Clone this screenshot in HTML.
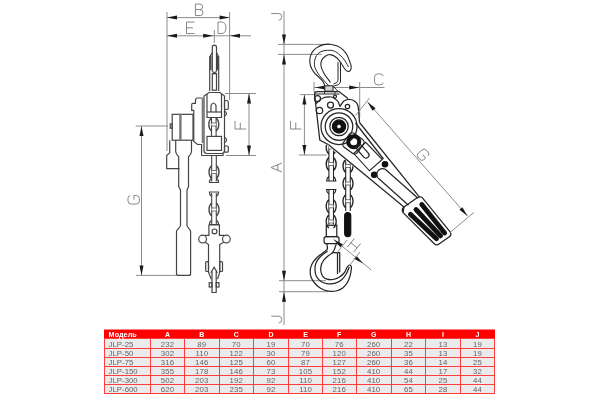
<!DOCTYPE html>
<html><head><meta charset="utf-8"><style>
html,body{margin:0;padding:0;background:#fff;width:600px;height:400px;overflow:hidden}
svg{display:block;font-family:"Liberation Sans",sans-serif;will-change:transform}
</style></head><body>
<svg width="600" height="400" viewBox="0 0 600 400">
<g>
<line x1="167" y1="12" x2="167" y2="151" stroke="#8c8c8c" stroke-width="1.0"/>
<line x1="229.6" y1="12" x2="229.6" y2="100" stroke="#8c8c8c" stroke-width="1.0"/>
<line x1="167" y1="17.6" x2="229.6" y2="17.6" stroke="#8c8c8c" stroke-width="1.0"/>
<path d="M167.00,17.60 L177.00,15.60 L177.00,19.60 Z" fill="#1a1a1a"/>
<path d="M229.60,17.60 L219.60,19.60 L219.60,15.60 Z" fill="#1a1a1a"/>
<line x1="167" y1="35.8" x2="251" y2="35.8" stroke="#8c8c8c" stroke-width="1.0"/>
<path d="M167.00,35.80 L177.00,33.80 L177.00,37.80 Z" fill="#1a1a1a"/>
<path d="M213.20,35.80 L203.20,37.80 L203.20,33.80 Z" fill="#1a1a1a"/>
<path d="M230.00,35.80 L240.00,33.80 L240.00,37.80 Z" fill="#1a1a1a"/>
<line x1="214.3" y1="30" x2="214.3" y2="43" stroke="#8c8c8c" stroke-width="1.0"/>
<path transform="translate(199.2,9.8) rotate(0) translate(-3.75,-5.75)" d="M0,0 H4.65 Q7.125,0 7.125,2.875 Q7.125,5.52 4.5,5.52 H0 M4.5,5.52 Q7.5,5.75 7.5,8.625 Q7.5,11.5 4.65,11.5 H0 V0" stroke="#7a7a7a" stroke-width="0.9" fill="none"/>
<path transform="translate(190.5,27.8) rotate(0) translate(-4.0,-5.75)" d="M8,0 H0 V11.5 H8 M0,5.75 H6.4" stroke="#7a7a7a" stroke-width="0.9" fill="none"/>
<path transform="translate(222,27.8) rotate(0) translate(-4.0,-5.75)" d="M0,0 H3.2 Q8,0 8,5.75 Q8,11.5 3.2,11.5 H0 Z" stroke="#7a7a7a" stroke-width="0.9" fill="none"/>
<line x1="225" y1="93.5" x2="256" y2="93.5" stroke="#8c8c8c" stroke-width="1.0"/>
<line x1="226" y1="155.5" x2="256" y2="155.5" stroke="#8c8c8c" stroke-width="1.0"/>
<line x1="249" y1="93.5" x2="249" y2="155.5" stroke="#8c8c8c" stroke-width="1.0"/>
<path d="M249.00,93.50 L251.00,103.50 L247.00,103.50 Z" fill="#1a1a1a"/>
<path d="M249.00,155.50 L247.00,145.50 L251.00,145.50 Z" fill="#1a1a1a"/>
<path transform="translate(240.5,125) rotate(-90) translate(-4.0,-5.5)" d="M8,0 H0 V11 M0,5.279999999999999 H6.4" stroke="#7a7a7a" stroke-width="0.9" fill="none"/>
<line x1="135.7" y1="126" x2="168" y2="126" stroke="#8c8c8c" stroke-width="1.0"/>
<line x1="136" y1="275.4" x2="176.5" y2="275.4" stroke="#8c8c8c" stroke-width="1.0"/>
<line x1="141.5" y1="126" x2="141.5" y2="275.4" stroke="#8c8c8c" stroke-width="1.0"/>
<path d="M141.50,126.00 L143.50,136.00 L139.50,136.00 Z" fill="#1a1a1a"/>
<path d="M141.50,275.40 L139.50,265.40 L143.50,265.40 Z" fill="#1a1a1a"/>
<path transform="translate(133.7,199.8) rotate(-90) translate(-4.25,-5.75)" d="M8.5,2.3000000000000003 Q8.5,0 5.27,0 H3.23 Q0,0 0,3.4499999999999997 V8.049999999999999 Q0,11.5 3.23,11.5 H5.27 Q8.5,11.5 8.5,8.625 V5.98 H4.25" stroke="#7a7a7a" stroke-width="0.9" fill="none"/>
<path d="M212.3,71.5 L212.3,47.3 A2.1,2.1 0 0 1 216.5,47.3 L216.5,71.5" stroke="#444" stroke-width="1.2" fill="none" />
<path d="M209.7,91 L209.7,57 L212.3,52.5 M218.7,91 L218.7,57 L216.5,52.5" stroke="#444" stroke-width="1.2" fill="none" />
<line x1="210.8" y1="56" x2="210.8" y2="70" stroke="#444" stroke-width="1.4"/>
<line x1="217.6" y1="56" x2="217.6" y2="70" stroke="#444" stroke-width="1.4"/>
<path d="M212.3,71.5 L216.5,74 M216.5,71.5 L212.3,74" stroke="#444" stroke-width="1.2" fill="none" />
<rect x="212.3" y="73.7" width="4.2" height="16.5" rx="0" stroke="#444" stroke-width="1.2" fill="none"/>
<path d="M209,92.5 L220,92.5 L224.5,96 L224.5,150.5 Q224.5,153.5 221.5,153.5 L207,153.5 Q204,153.5 204,150.5 L204,96 Z" stroke="#444" stroke-width="1.2" fill="none" />
<path d="M207,94 L207,117.5 L221.5,117.5 L221.5,94" stroke="#444" stroke-width="1.2" fill="none" />
<path d="M211,112 L211,105.5 Q213.5,100.5 216,105.5 L216,112" stroke="#444" stroke-width="1.2" fill="none" />
<line x1="207" y1="112" x2="221.5" y2="112" stroke="#444" stroke-width="1.2"/>
<path d="M211.5,118 L211.5,136.3 M216.10000000000002,118 L216.10000000000002,136.3" stroke="#444" stroke-width="1.1" fill="none" />
<path d="M211.5,118.0 C207.9,120.925 207.9,128.075 211.5,131.0 M216.10000000000002,118.0 C219.70000000000002,120.925 219.70000000000002,128.075 216.10000000000002,131.0" stroke="#444" stroke-width="1.3" fill="none" />
<rect x="211.5" y="123.1" width="4.6" height="2.8" fill="#fff" stroke="none"/>
<path d="M211.5,123.0 H216.10000000000002 M211.5,126.0 H216.10000000000002" stroke="#555" stroke-width="0.8" fill="none" />
<rect x="207" y="136.4" width="14.5" height="14" rx="0" stroke="#444" stroke-width="1.2" fill="none"/>
<rect x="224.5" y="100.5" width="3.8" height="9" rx="1.6" stroke="#444" stroke-width="1.2" fill="none"/>
<path d="M224.5,111 Q228.5,113.5 224.5,116" stroke="#444" stroke-width="1.2" fill="none" />
<path d="M224.5,137.3 Q228.8,139.9 224.5,142.5" stroke="#444" stroke-width="1.2" fill="none" />
<rect x="224.5" y="146" width="3.8" height="6.2" rx="1" stroke="#444" stroke-width="1.2" fill="none"/>
<path d="M202.5,98 L197.5,98 Q195.5,98 195.5,100 L195.5,103.4 L192.7,103.4 Q191.7,103.4 191.7,104.5 L191.7,110.4 L193.75,110.4 L193.75,141.5 L197.5,144.5 L201.6,144.5 L201.6,155.5" stroke="#444" stroke-width="1.2" fill="none" />
<line x1="202.6" y1="98" x2="202.6" y2="143" stroke="#777" stroke-width="1.8"/>
<rect x="172.2" y="114.3" width="20.8" height="25.9" rx="0" stroke="#444" stroke-width="1.2" fill="none"/>
<line x1="180.4" y1="114.3" x2="180.4" y2="140.2" stroke="#777" stroke-width="2.4"/>
<rect x="170.2" y="124" width="2" height="4.2" rx="0" stroke="#444" stroke-width="1.2" fill="none"/>
<path d="M169.7,140.2 L169.7,153 L166.7,155.2 L166.7,168.7 L179.5,168.7" stroke="#444" stroke-width="1.2" fill="none" />
<path d="M175.7,140.2 L175.7,151.5 Q175.7,154 178.7,156.7 L178.7,186.7 L180.5,190 L180.5,226" stroke="#444" stroke-width="1.2" fill="none" />
<path d="M191.5,140.2 L191.5,151.5 Q191.5,154 188.5,156.7 L188.5,186.7 L187,190 L187,226" stroke="#444" stroke-width="1.2" fill="none" />
<path d="M180.5,226 L176.5,231 L176.5,273.4 Q176.5,275.4 178.5,275.4 L188.6,275.4 Q190.6,275.4 190.6,273.4 L190.6,231 L187,226" stroke="#444" stroke-width="1.2" fill="none" />
<path d="M201.6,155.5 L223,155.5 L223,153.5" stroke="#444" stroke-width="1.2" fill="none" />
<path d="M211.7,155.5 L211.7,181.5 M216.3,155.5 L216.3,181.5" stroke="#444" stroke-width="1.1" fill="none" />
<path d="M211.7,165.5 C208.1,168.425 208.1,175.575 211.7,178.5 M216.3,165.5 C219.9,168.425 219.9,175.575 216.3,178.5" stroke="#444" stroke-width="1.3" fill="none" />
<rect x="211.7" y="170.6" width="4.6" height="2.8" fill="#fff" stroke="none"/>
<path d="M211.7,170.5 H216.3 M211.7,173.5 H216.3" stroke="#555" stroke-width="0.8" fill="none" />
<path d="M211.7,178 Q209.2,180 209.4,182.5 L218.6,182.5 Q218.8,180 216.3,178" stroke="#444" stroke-width="1.2" fill="none" />
<path d="M211.7,193 L211.7,224.6 M216.3,193 L216.3,224.6" stroke="#444" stroke-width="1.1" fill="none" />
<path d="M211.7,203.0 C208.1,205.925 208.1,213.075 211.7,216.0 M216.3,203.0 C219.9,205.925 219.9,213.075 216.3,216.0" stroke="#444" stroke-width="1.3" fill="none" />
<rect x="211.7" y="208.1" width="4.6" height="2.8" fill="#fff" stroke="none"/>
<path d="M211.7,208.0 H216.3 M211.7,211.0 H216.3" stroke="#555" stroke-width="0.8" fill="none" />
<path d="M211.7,196.5 Q209.2,194.5 209.4,192.0 L218.6,192.0 Q218.8,194.5 216.3,196.5" stroke="#444" stroke-width="1.2" fill="none" />
<path d="M211.7,220 Q209.2,222 209.4,224.5 L218.6,224.5 Q218.8,222 216.3,220" stroke="#444" stroke-width="1.2" fill="none" />
<path d="M208.9,224.8 H219.4 V235.3 H224 M205,235.3 H208.9 V224.8 M205.3,242.3 L208.5,244.6 V272.2 L211.3,279.2 M223.7,242.3 L219.7,244.6 V272.2 L217.6,279.2" stroke="#444" stroke-width="1.2" fill="none" />
<circle cx="202.6" cy="239.1" r="3.9" stroke="#444" stroke-width="1.2" fill="none"/>
<circle cx="226.4" cy="239.1" r="3.9" stroke="#444" stroke-width="1.2" fill="none"/>
<circle cx="214.5" cy="231.4" r="2.4" stroke="#444" stroke-width="1.2" fill="none"/>
<rect x="205.7" y="261.7" width="2.8" height="9.8" rx="1" stroke="#444" stroke-width="1.2" fill="none"/>
<rect x="219.7" y="261.7" width="2.8" height="9.8" rx="1" stroke="#444" stroke-width="1.2" fill="none"/>
<path d="M214.1,267.3 L211.2,272.2 L212,272.2 L212,292.5 L216.2,292.5 L216.2,272.2 L217,272.2 Z" stroke="#444" stroke-width="1.2" fill="none" />
<rect x="209.2" y="282.7" width="2.8" height="4.3" rx="0" stroke="#444" stroke-width="1.2" fill="none"/>
<rect x="216.2" y="282.7" width="2.8" height="4.3" rx="0" stroke="#444" stroke-width="1.2" fill="none"/>
<line x1="284" y1="11" x2="284" y2="325" stroke="#8c8c8c" stroke-width="1.0"/>
<line x1="278" y1="44.4" x2="330" y2="44.4" stroke="#8c8c8c" stroke-width="1.0"/>
<line x1="278" y1="54.4" x2="322" y2="54.4" stroke="#8c8c8c" stroke-width="1.0"/>
<path d="M284.00,44.40 L282.00,34.40 L286.00,34.40 Z" fill="#1a1a1a"/>
<path d="M284.00,54.40 L286.00,64.40 L282.00,64.40 Z" fill="#1a1a1a"/>
<line x1="279" y1="280.7" x2="326" y2="280.7" stroke="#8c8c8c" stroke-width="1.0"/>
<line x1="279" y1="291.7" x2="328" y2="291.7" stroke="#8c8c8c" stroke-width="1.0"/>
<path d="M284.00,280.70 L282.00,270.70 L286.00,270.70 Z" fill="#1a1a1a"/>
<path d="M284.00,291.70 L286.00,301.70 L282.00,301.70 Z" fill="#1a1a1a"/>
<path transform="translate(276.5,16.3) rotate(-90) translate(-4.0,-5.25)" d="M6.8,0 V7.35 Q6.8,10.5 3.6,10.5 Q0,10.5 0,7.35" stroke="#7a7a7a" stroke-width="0.9" fill="none"/>
<path transform="translate(276.5,167.5) rotate(-90) translate(-4.5,-5.5)" d="M0,11 L4.5,0 L9,11 M1.8,6.82 H7.2" stroke="#7a7a7a" stroke-width="0.9" fill="none"/>
<path transform="translate(276.5,319) rotate(-90) translate(-4.0,-5.25)" d="M6.8,0 V7.35 Q6.8,10.5 3.6,10.5 Q0,10.5 0,7.35" stroke="#7a7a7a" stroke-width="0.9" fill="none"/>
<line x1="300" y1="94.6" x2="316" y2="94.6" stroke="#8c8c8c" stroke-width="1.0"/>
<line x1="299" y1="155" x2="326.7" y2="155" stroke="#8c8c8c" stroke-width="1.0"/>
<line x1="304.4" y1="94.6" x2="304.4" y2="155" stroke="#8c8c8c" stroke-width="1.0"/>
<path d="M304.40,94.60 L306.40,104.60 L302.40,104.60 Z" fill="#1a1a1a"/>
<path d="M304.40,155.00 L302.40,145.00 L306.40,145.00 Z" fill="#1a1a1a"/>
<path transform="translate(296,125) rotate(-90) translate(-4.0,-5.5)" d="M8,0 H0 V11 M0,5.279999999999999 H6.4" stroke="#7a7a7a" stroke-width="0.9" fill="none"/>
<line x1="314" y1="82" x2="314" y2="92" stroke="#8c8c8c" stroke-width="1.0"/>
<line x1="359.7" y1="82" x2="359.7" y2="118" stroke="#8c8c8c" stroke-width="1.0"/>
<line x1="314" y1="87.5" x2="384.5" y2="87.5" stroke="#8c8c8c" stroke-width="1.0"/>
<path d="M315.00,87.50 L325.00,85.50 L325.00,89.50 Z" fill="#1a1a1a"/>
<path d="M359.20,87.50 L349.20,89.50 L349.20,85.50 Z" fill="#1a1a1a"/>
<path transform="translate(378.8,79.4) rotate(0) translate(-4.25,-5.5)" d="M8.5,2.2 Q8.5,0 5.27,0 H3.23 Q0,0 0,3.3 V7.699999999999999 Q0,11 3.23,11 H5.27 Q8.5,11 8.5,8.8" stroke="#7a7a7a" stroke-width="0.9" fill="none"/>
<path d="M325.00,86.00 C324.55,85.10 324.13,82.87 322.30,80.60 C320.47,78.33 315.98,74.92 314.00,72.40 C312.02,69.88 311.08,67.73 310.40,65.50 C309.72,63.27 309.63,61.17 309.90,59.00 C310.17,56.83 310.85,54.40 312.00,52.50 C313.15,50.60 314.87,48.92 316.80,47.60 C318.73,46.28 321.40,45.17 323.60,44.60 C325.80,44.03 327.70,43.97 330.00,44.20 C332.30,44.43 335.32,45.15 337.40,46.00 C339.48,46.85 340.93,47.88 342.50,49.30 C344.07,50.72 345.63,52.55 346.80,54.50 C347.97,56.45 348.77,59.00 349.50,61.00 C350.23,63.00 351.07,64.95 351.20,66.50 C351.33,68.05 350.92,69.50 350.30,70.30 C349.68,71.10 348.42,71.52 347.50,71.30 C346.58,71.08 345.83,70.30 344.80,69.00 C343.77,67.70 342.60,65.33 341.30,63.50 C340.00,61.67 338.82,59.48 337.00,58.00 C335.18,56.52 332.35,54.90 330.40,54.60 C328.45,54.30 326.77,55.22 325.30,56.20 C323.83,57.18 322.32,58.87 321.60,60.50 C320.88,62.13 320.63,63.92 321.00,66.00 C321.37,68.08 322.22,70.25 323.80,73.00 C325.38,75.75 329.38,80.92 330.50,82.50" stroke="#252525" stroke-width="1.1" fill="none" />
<path d="M329.00,86.00 C327.42,84.25 321.83,78.57 319.50,75.50 C317.17,72.43 315.82,69.95 315.00,67.60 C314.18,65.25 314.35,63.42 314.60,61.40 C314.85,59.38 315.43,57.13 316.50,55.50 C317.57,53.87 319.17,52.47 321.00,51.60 C322.83,50.73 325.30,50.38 327.50,50.30 C329.70,50.22 332.13,50.32 334.20,51.10 C336.27,51.88 338.07,53.35 339.90,55.00 C341.73,56.65 343.77,59.00 345.20,61.00 C346.63,63.00 347.95,66.00 348.50,67.00" stroke="#252525" stroke-width="1.0" fill="none" />
<path d="M338,62 L338,80.5 Q337.5,83 333.5,84 M340.5,62 L340.5,82 Q340,85 334,86" stroke="#252525" stroke-width="1.0" fill="none" />
<rect x="324.8" y="85.8" width="8.2" height="5.4" rx="0" stroke="#252525" stroke-width="1" fill="#d4d4d4"/>
<path d="M328.9,146 L328.9,181 M333.5,146 L333.5,181" stroke="#252525" stroke-width="1.1" fill="none" />
<path d="M328.9,141.0 C325.3,143.925 325.3,151.075 328.9,154.0 M333.5,141.0 C337.09999999999997,143.925 337.09999999999997,151.075 333.5,154.0" stroke="#252525" stroke-width="1.3" fill="none" />
<rect x="328.9" y="146.1" width="4.6" height="2.8" fill="#fff" stroke="none"/>
<path d="M328.9,146.0 H333.5 M328.9,149.0 H333.5" stroke="#555" stroke-width="0.8" fill="none" />
<path d="M328.9,157.5 C325.3,160.425 325.3,167.575 328.9,170.5 M333.5,157.5 C337.09999999999997,160.425 337.09999999999997,167.575 333.5,170.5" stroke="#252525" stroke-width="1.3" fill="none" />
<rect x="328.9" y="162.6" width="4.6" height="2.8" fill="#fff" stroke="none"/>
<path d="M328.9,162.5 H333.5 M328.9,165.5 H333.5" stroke="#555" stroke-width="0.8" fill="none" />
<path d="M328.9,176.5 Q326.4,178.5 326.59999999999997,181.0 L335.8,181.0 Q336.0,178.5 333.5,176.5" stroke="#252525" stroke-width="1.2" fill="none" />
<path d="M328.9,190 L328.9,224.6 M333.5,190 L333.5,224.6" stroke="#252525" stroke-width="1.1" fill="none" />
<path d="M328.9,199.8 C325.3,202.72500000000002 325.3,209.875 328.9,212.8 M333.5,199.8 C337.09999999999997,202.72500000000002 337.09999999999997,209.875 333.5,212.8" stroke="#252525" stroke-width="1.3" fill="none" />
<rect x="328.9" y="204.9" width="4.6" height="2.8" fill="#fff" stroke="none"/>
<path d="M328.9,204.8 H333.5 M328.9,207.8 H333.5" stroke="#555" stroke-width="0.8" fill="none" />
<path d="M328.9,215.0 C325.3,217.925 325.3,225.075 328.9,228.0 M333.5,215.0 C337.09999999999997,217.925 337.09999999999997,225.075 333.5,228.0" stroke="#252525" stroke-width="1.3" fill="none" />
<rect x="328.9" y="220.1" width="4.6" height="2.8" fill="#fff" stroke="none"/>
<path d="M328.9,220.0 H333.5 M328.9,223.0 H333.5" stroke="#555" stroke-width="0.8" fill="none" />
<path d="M328.9,194 Q326.4,192 326.59999999999997,189.5 L335.8,189.5 Q336.0,192 333.5,194" stroke="#252525" stroke-width="1.2" fill="none" />
<path d="M345.7,160 L345.7,211 M350.3,160 L350.3,211" stroke="#252525" stroke-width="1.1" fill="none" />
<path d="M345.7,159.5 C342.1,162.425 342.1,169.575 345.7,172.5 M350.3,159.5 C353.9,162.425 353.9,169.575 350.3,172.5" stroke="#252525" stroke-width="1.3" fill="none" />
<rect x="345.7" y="164.6" width="4.6" height="2.8" fill="#fff" stroke="none"/>
<path d="M345.7,164.5 H350.3 M345.7,167.5 H350.3" stroke="#555" stroke-width="0.8" fill="none" />
<path d="M345.7,177.0 C342.1,179.925 342.1,187.075 345.7,190.0 M350.3,177.0 C353.9,179.925 353.9,187.075 350.3,190.0" stroke="#252525" stroke-width="1.3" fill="none" />
<rect x="345.7" y="182.1" width="4.6" height="2.8" fill="#fff" stroke="none"/>
<path d="M345.7,182.0 H350.3 M345.7,185.0 H350.3" stroke="#555" stroke-width="0.8" fill="none" />
<path d="M345.7,194.7 C342.1,197.625 342.1,204.77499999999998 345.7,207.7 M350.3,194.7 C353.9,197.625 353.9,204.77499999999998 350.3,207.7" stroke="#252525" stroke-width="1.3" fill="none" />
<rect x="345.7" y="199.79999999999998" width="4.6" height="2.8" fill="#fff" stroke="none"/>
<path d="M345.7,199.7 H350.3 M345.7,202.7 H350.3" stroke="#555" stroke-width="0.8" fill="none" />
<rect x="344.7" y="212.5" width="6" height="24" rx="3" stroke="#111" stroke-width="1.25" fill="#111"/>
<path d="M317,91.5 L339,91.5 L348,98.5 L354.5,101 L359.5,122.5 L419.5,197.2 L403.1,212.6 L404,207 L327.5,145.7 L320,139 L314.5,94 Z" stroke="none" stroke-width="1.25" fill="#fff" />
<path d="M317,91.5 L339,91.5 L348,98.5 M317,91.5 Q314.5,91.5 314.5,94 L319.8,140 L328.6,144.8" stroke="#252525" stroke-width="1.25" fill="none" />
<line x1="315" y1="94" x2="339.5" y2="94" stroke="#252525" stroke-width="1"/>
<line x1="324.5" y1="91.5" x2="324.5" y2="94" stroke="#252525" stroke-width="0.9"/>
<line x1="335" y1="91.5" x2="335" y2="94" stroke="#252525" stroke-width="0.9"/>
<path d="M333,86 L338,91.5" stroke="#252525" stroke-width="1" fill="none" />
<circle cx="317.5" cy="98.5" r="3" stroke="#252525" stroke-width="1.25" fill="none"/>
<circle cx="319.5" cy="110.5" r="3.2" stroke="#252525" stroke-width="1.25" fill="none"/>
<circle cx="330.5" cy="105" r="3" stroke="#252525" stroke-width="1.25" fill="none"/>
<circle cx="335" cy="96.5" r="1.5" stroke="#252525" stroke-width="1.25" fill="none"/>
<circle cx="347.5" cy="106.5" r="2.2" stroke="#252525" stroke-width="1.25" fill="none"/>
<path d="M315.50,104.00 C316.75,103.00 320.42,99.17 323.00,98.00 C325.58,96.83 329.08,96.92 331.00,97.00 C332.92,97.08 333.33,97.75 334.50,98.50 C335.67,99.25 337.08,100.17 338.00,101.50 C338.92,102.83 339.67,105.67 340.00,106.50" stroke="#252525" stroke-width="1.25" fill="none" />
<path d="M340.00,106.50 C340.67,105.58 342.33,102.17 344.00,101.00 C345.67,99.83 348.17,99.42 350.00,99.50 C351.83,99.58 353.67,100.42 355.00,101.50 C356.33,102.58 357.25,102.50 358.00,106.00 C358.75,109.50 359.25,119.75 359.50,122.50" stroke="#252525" stroke-width="1.25" fill="none" />
<circle cx="339" cy="126.5" r="18" stroke="#252525" stroke-width="1.25" fill="none"/>
<circle cx="339" cy="126.5" r="13.75" stroke="#252525" stroke-width="1.25" fill="none"/>
<circle cx="339" cy="126.5" r="9.2" stroke="#252525" stroke-width="1.25" fill="none"/>
<circle cx="339" cy="126.5" r="6.6" stroke="#111" stroke-width="1.25" fill="#111"/>
<circle cx="339" cy="126.5" r="1.6" stroke="#fff" stroke-width="0.5" fill="#fff"/>
<path d="M359.5,122.5 L419.5,197.2" stroke="#252525" stroke-width="1.25" fill="none" />
<path d="M355.5,123 L383.5,159" stroke="#252525" stroke-width="1.25" fill="none" />
<path d="M328.6,144.8 L404,207 L403.1,212.6" stroke="#252525" stroke-width="1.25" fill="none" />
<g transform="translate(353.4,143.4) rotate(36)"><rect x="-8.6" y="-8.6" width="17.2" height="17.2" rx="3.5" fill="none" stroke="#252525" stroke-width="1.25"/></g>
<circle cx="353.7" cy="141.8" r="5.5" stroke="#111" stroke-width="4" fill="none"/>
<g transform="translate(362.7,151.3) rotate(49)"><rect x="-8" y="-3" width="16" height="6" rx="3" fill="none" stroke="#252525" stroke-width="1.2"/></g>
<path d="M353.75,153.5 L365.75,142.25 L382.25,159.5 L369.5,170.75 Z" stroke="#252525" stroke-width="1.1" fill="none" />
<circle cx="385" cy="164.2" r="2.7" stroke="#111" stroke-width="1.25" fill="#111"/>
<circle cx="374.2" cy="174.7" r="2.7" stroke="#111" stroke-width="1.25" fill="#111"/>
<path d="M418,198.3 L385.3,169.3 A5.8,5.8 0 0 0 379.8,179.6 L408.5,205.3" stroke="#252525" stroke-width="1.25" fill="none" />
<path d="M421.8,197.2 L450.3,232.2 Q452,235 449,237 L439,244 Q436.5,246 434,243.5 L403.1,212.6 Q401,209 404,207 L416,198.5 Q419,196 421.8,197.2 Z" stroke="#252525" stroke-width="1.25" fill="none" />
<path d="M421.8,204.5 L444.6,233" stroke="#111" stroke-width="4.9" fill="none" stroke-linecap="round"/>
<path d="M416,209.5 L440.5,235.8" stroke="#111" stroke-width="4.9" fill="none" stroke-linecap="round"/>
<path d="M410.4,214.3 L436.5,238.7" stroke="#111" stroke-width="4.9" fill="none" stroke-linecap="round"/>
<line x1="367.5" y1="102" x2="467.5" y2="216" stroke="#8c8c8c" stroke-width="1.0"/>
<path d="M367.50,102.00 L375.60,108.20 L372.59,110.84 Z" fill="#1a1a1a"/>
<path d="M467.50,216.00 L459.40,209.80 L462.41,207.16 Z" fill="#1a1a1a"/>
<line x1="355.5" y1="115.5" x2="369.5" y2="98" stroke="#8c8c8c" stroke-width="1.0"/>
<line x1="450" y1="232.5" x2="473.75" y2="212.5" stroke="#8c8c8c" stroke-width="1.0"/>
<path transform="translate(423,154.7) rotate(49) translate(-4.25,-5.5)" d="M8.5,2.2 Q8.5,0 5.27,0 H3.23 Q0,0 0,3.3 V7.699999999999999 Q0,11 3.23,11 H5.27 Q8.5,11 8.5,8.25 V5.720000000000001 H4.25" stroke="#7a7a7a" stroke-width="0.9" fill="none"/>
<rect x="326.3" y="225.25" width="10.5" height="11.35" rx="0" stroke="#252525" stroke-width="1.25" fill="none"/>
<rect x="324.1" y="236.6" width="14.9" height="7" rx="2.2" stroke="#252525" stroke-width="1.25" fill="none"/>
<path d="M326.75,243.60 C326.82,244.53 327.91,247.60 327.20,249.20 C326.49,250.80 324.37,251.65 322.50,253.20 C320.63,254.75 317.78,256.62 316.00,258.50 C314.22,260.38 312.77,262.42 311.80,264.50 C310.83,266.58 310.30,268.83 310.20,271.00 C310.10,273.17 310.40,275.42 311.20,277.50 C312.00,279.58 313.37,281.67 315.00,283.50 C316.63,285.33 318.75,287.22 321.00,288.50 C323.25,289.78 326.00,290.78 328.50,291.20 C331.00,291.62 333.63,291.53 336.00,291.00 C338.37,290.47 340.80,289.42 342.70,288.00 C344.60,286.58 346.18,284.50 347.40,282.50 C348.62,280.50 349.35,278.17 350.00,276.00 C350.65,273.83 351.10,271.12 351.30,269.50 C351.50,267.88 351.50,267.02 351.20,266.30 C350.90,265.58 350.15,265.08 349.50,265.20 C348.85,265.32 348.13,265.78 347.30,267.00 C346.47,268.22 345.80,270.83 344.50,272.50 C343.20,274.17 341.42,275.83 339.50,277.00 C337.58,278.17 335.08,279.13 333.00,279.50 C330.92,279.87 328.70,279.73 327.00,279.20 C325.30,278.67 323.83,277.67 322.80,276.30 C321.77,274.93 321.07,272.80 320.80,271.00 C320.53,269.20 320.75,267.25 321.20,265.50 C321.65,263.75 322.37,262.08 323.50,260.50 C324.63,258.92 326.50,257.25 328.00,256.00 C329.50,254.75 331.75,253.50 332.50,253.00" stroke="#252525" stroke-width="1.25" fill="none" />
<path d="M327.50,251.00 C326.25,252.00 321.95,254.92 320.00,257.00 C318.05,259.08 316.63,261.33 315.80,263.50 C314.97,265.67 314.88,267.83 315.00,270.00 C315.12,272.17 315.50,274.58 316.50,276.50 C317.50,278.42 319.08,280.28 321.00,281.50 C322.92,282.72 325.58,283.52 328.00,283.80 C330.42,284.08 333.17,283.92 335.50,283.20 C337.83,282.48 340.17,281.12 342.00,279.50 C343.83,277.88 345.28,275.58 346.50,273.50 C347.72,271.42 348.83,268.08 349.30,267.00" stroke="#252525" stroke-width="1.25" fill="none" />
<path d="M336.4,243.6 L334.5,249.2 L332.5,252.5 L339.7,252.5 L339.7,272.5 M337.5,253 L337.5,274" stroke="#252525" stroke-width="1.25" fill="none" />
<line x1="333.8" y1="239.4" x2="371.3" y2="270" stroke="#8c8c8c" stroke-width="1.0"/>
<path d="M333.80,239.40 L342.81,244.17 L340.28,247.27 Z" fill="#1a1a1a"/>
<path d="M363.00,263.50 L353.99,258.73 L356.52,255.63 Z" fill="#1a1a1a"/>
<line x1="347" y1="240" x2="336" y2="254" stroke="#8c8c8c" stroke-width="1.0"/>
<line x1="360" y1="252" x2="349" y2="266" stroke="#8c8c8c" stroke-width="1.0"/>
<path transform="translate(354,245.3) rotate(39) translate(-4.0,-5.5)" d="M0,0 V11 M8,0 V11 M0,5.5 H8" stroke="#7a7a7a" stroke-width="0.9" fill="none"/>
</g>
<g>
<rect x="104" y="329.5" width="391" height="9.5" fill="#f00"/>
<rect x="104" y="339" width="391" height="55" fill="#ebebeb"/>
<line x1="104" y1="348.5" x2="495" y2="348.5" stroke="#ff3d3d" stroke-width="1"/>
<line x1="104" y1="357.5" x2="495" y2="357.5" stroke="#ff3d3d" stroke-width="1"/>
<line x1="104" y1="366.5" x2="495" y2="366.5" stroke="#ff3d3d" stroke-width="1"/>
<line x1="104" y1="375.5" x2="495" y2="375.5" stroke="#ff3d3d" stroke-width="1"/>
<line x1="104" y1="384.5" x2="495" y2="384.5" stroke="#ff3d3d" stroke-width="1"/>
<line x1="150.5" y1="339" x2="150.5" y2="394" stroke="#ff3d3d" stroke-width="1"/>
<line x1="184.5" y1="339" x2="184.5" y2="394" stroke="#ff3d3d" stroke-width="1"/>
<line x1="219.5" y1="339" x2="219.5" y2="394" stroke="#ff3d3d" stroke-width="1"/>
<line x1="253.5" y1="339" x2="253.5" y2="394" stroke="#ff3d3d" stroke-width="1"/>
<line x1="288.5" y1="339" x2="288.5" y2="394" stroke="#ff3d3d" stroke-width="1"/>
<line x1="322.5" y1="339" x2="322.5" y2="394" stroke="#ff3d3d" stroke-width="1"/>
<line x1="356.5" y1="339" x2="356.5" y2="394" stroke="#ff3d3d" stroke-width="1"/>
<line x1="391.5" y1="339" x2="391.5" y2="394" stroke="#ff3d3d" stroke-width="1"/>
<line x1="425.5" y1="339" x2="425.5" y2="394" stroke="#ff3d3d" stroke-width="1"/>
<line x1="460.5" y1="339" x2="460.5" y2="394" stroke="#ff3d3d" stroke-width="1"/>
<rect x="104.5" y="338.5" width="390" height="55" fill="none" stroke="#ff3d3d" stroke-width="1"/>
<text x="108.6" y="337.3" font-size="7.2" font-weight="bold" fill="#fff" letter-spacing="0.05">Модель</text>
<text x="167.5" y="337.3" font-size="7" font-weight="bold" fill="#fff" text-anchor="middle">A</text>
<text x="201.75" y="337.3" font-size="7" font-weight="bold" fill="#fff" text-anchor="middle">B</text>
<text x="236.25" y="337.3" font-size="7" font-weight="bold" fill="#fff" text-anchor="middle">C</text>
<text x="271.0" y="337.3" font-size="7" font-weight="bold" fill="#fff" text-anchor="middle">D</text>
<text x="305.5" y="337.3" font-size="7" font-weight="bold" fill="#fff" text-anchor="middle">E</text>
<text x="339.25" y="337.3" font-size="7" font-weight="bold" fill="#fff" text-anchor="middle">F</text>
<text x="373.65" y="337.3" font-size="7" font-weight="bold" fill="#fff" text-anchor="middle">G</text>
<text x="408.55" y="337.3" font-size="7" font-weight="bold" fill="#fff" text-anchor="middle">H</text>
<text x="442.9" y="337.3" font-size="7" font-weight="bold" fill="#fff" text-anchor="middle">I</text>
<text x="477.5" y="337.3" font-size="7" font-weight="bold" fill="#fff" text-anchor="middle">J</text>
<text x="108.6" y="346.8" font-size="7.8" fill="#646464" letter-spacing="0">JLP-25</text>
<text x="167.5" y="346.8" font-size="7.8" fill="#646464" text-anchor="middle" letter-spacing="0.1">232</text>
<text x="201.75" y="346.8" font-size="7.8" fill="#646464" text-anchor="middle" letter-spacing="0.1">89</text>
<text x="236.25" y="346.8" font-size="7.8" fill="#646464" text-anchor="middle" letter-spacing="0.1">70</text>
<text x="271.0" y="346.8" font-size="7.8" fill="#646464" text-anchor="middle" letter-spacing="0.1">19</text>
<text x="305.5" y="346.8" font-size="7.8" fill="#646464" text-anchor="middle" letter-spacing="0.1">70</text>
<text x="339.25" y="346.8" font-size="7.8" fill="#646464" text-anchor="middle" letter-spacing="0.1">76</text>
<text x="373.65" y="346.8" font-size="7.8" fill="#646464" text-anchor="middle" letter-spacing="0.1">260</text>
<text x="408.55" y="346.8" font-size="7.8" fill="#646464" text-anchor="middle" letter-spacing="0.1">22</text>
<text x="442.9" y="346.8" font-size="7.8" fill="#646464" text-anchor="middle" letter-spacing="0.1">13</text>
<text x="477.5" y="346.8" font-size="7.8" fill="#646464" text-anchor="middle" letter-spacing="0.1">19</text>
<text x="108.6" y="355.8" font-size="7.8" fill="#646464" letter-spacing="0">JLP-50</text>
<text x="167.5" y="355.8" font-size="7.8" fill="#646464" text-anchor="middle" letter-spacing="0.1">302</text>
<text x="201.75" y="355.8" font-size="7.8" fill="#646464" text-anchor="middle" letter-spacing="0.1">110</text>
<text x="236.25" y="355.8" font-size="7.8" fill="#646464" text-anchor="middle" letter-spacing="0.1">122</text>
<text x="271.0" y="355.8" font-size="7.8" fill="#646464" text-anchor="middle" letter-spacing="0.1">30</text>
<text x="305.5" y="355.8" font-size="7.8" fill="#646464" text-anchor="middle" letter-spacing="0.1">79</text>
<text x="339.25" y="355.8" font-size="7.8" fill="#646464" text-anchor="middle" letter-spacing="0.1">120</text>
<text x="373.65" y="355.8" font-size="7.8" fill="#646464" text-anchor="middle" letter-spacing="0.1">260</text>
<text x="408.55" y="355.8" font-size="7.8" fill="#646464" text-anchor="middle" letter-spacing="0.1">35</text>
<text x="442.9" y="355.8" font-size="7.8" fill="#646464" text-anchor="middle" letter-spacing="0.1">13</text>
<text x="477.5" y="355.8" font-size="7.8" fill="#646464" text-anchor="middle" letter-spacing="0.1">19</text>
<text x="108.6" y="364.8" font-size="7.8" fill="#646464" letter-spacing="0">JLP-75</text>
<text x="167.5" y="364.8" font-size="7.8" fill="#646464" text-anchor="middle" letter-spacing="0.1">316</text>
<text x="201.75" y="364.8" font-size="7.8" fill="#646464" text-anchor="middle" letter-spacing="0.1">146</text>
<text x="236.25" y="364.8" font-size="7.8" fill="#646464" text-anchor="middle" letter-spacing="0.1">125</text>
<text x="271.0" y="364.8" font-size="7.8" fill="#646464" text-anchor="middle" letter-spacing="0.1">60</text>
<text x="305.5" y="364.8" font-size="7.8" fill="#646464" text-anchor="middle" letter-spacing="0.1">87</text>
<text x="339.25" y="364.8" font-size="7.8" fill="#646464" text-anchor="middle" letter-spacing="0.1">127</text>
<text x="373.65" y="364.8" font-size="7.8" fill="#646464" text-anchor="middle" letter-spacing="0.1">260</text>
<text x="408.55" y="364.8" font-size="7.8" fill="#646464" text-anchor="middle" letter-spacing="0.1">36</text>
<text x="442.9" y="364.8" font-size="7.8" fill="#646464" text-anchor="middle" letter-spacing="0.1">14</text>
<text x="477.5" y="364.8" font-size="7.8" fill="#646464" text-anchor="middle" letter-spacing="0.1">25</text>
<text x="108.6" y="373.8" font-size="7.8" fill="#646464" letter-spacing="0">JLP-150</text>
<text x="167.5" y="373.8" font-size="7.8" fill="#646464" text-anchor="middle" letter-spacing="0.1">355</text>
<text x="201.75" y="373.8" font-size="7.8" fill="#646464" text-anchor="middle" letter-spacing="0.1">178</text>
<text x="236.25" y="373.8" font-size="7.8" fill="#646464" text-anchor="middle" letter-spacing="0.1">146</text>
<text x="271.0" y="373.8" font-size="7.8" fill="#646464" text-anchor="middle" letter-spacing="0.1">73</text>
<text x="305.5" y="373.8" font-size="7.8" fill="#646464" text-anchor="middle" letter-spacing="0.1">105</text>
<text x="339.25" y="373.8" font-size="7.8" fill="#646464" text-anchor="middle" letter-spacing="0.1">152</text>
<text x="373.65" y="373.8" font-size="7.8" fill="#646464" text-anchor="middle" letter-spacing="0.1">410</text>
<text x="408.55" y="373.8" font-size="7.8" fill="#646464" text-anchor="middle" letter-spacing="0.1">44</text>
<text x="442.9" y="373.8" font-size="7.8" fill="#646464" text-anchor="middle" letter-spacing="0.1">17</text>
<text x="477.5" y="373.8" font-size="7.8" fill="#646464" text-anchor="middle" letter-spacing="0.1">32</text>
<text x="108.6" y="382.8" font-size="7.8" fill="#646464" letter-spacing="0">JLP-300</text>
<text x="167.5" y="382.8" font-size="7.8" fill="#646464" text-anchor="middle" letter-spacing="0.1">502</text>
<text x="201.75" y="382.8" font-size="7.8" fill="#646464" text-anchor="middle" letter-spacing="0.1">203</text>
<text x="236.25" y="382.8" font-size="7.8" fill="#646464" text-anchor="middle" letter-spacing="0.1">192</text>
<text x="271.0" y="382.8" font-size="7.8" fill="#646464" text-anchor="middle" letter-spacing="0.1">92</text>
<text x="305.5" y="382.8" font-size="7.8" fill="#646464" text-anchor="middle" letter-spacing="0.1">110</text>
<text x="339.25" y="382.8" font-size="7.8" fill="#646464" text-anchor="middle" letter-spacing="0.1">216</text>
<text x="373.65" y="382.8" font-size="7.8" fill="#646464" text-anchor="middle" letter-spacing="0.1">410</text>
<text x="408.55" y="382.8" font-size="7.8" fill="#646464" text-anchor="middle" letter-spacing="0.1">54</text>
<text x="442.9" y="382.8" font-size="7.8" fill="#646464" text-anchor="middle" letter-spacing="0.1">25</text>
<text x="477.5" y="382.8" font-size="7.8" fill="#646464" text-anchor="middle" letter-spacing="0.1">44</text>
<text x="108.6" y="391.8" font-size="7.8" fill="#646464" letter-spacing="0">JLP-600</text>
<text x="167.5" y="391.8" font-size="7.8" fill="#646464" text-anchor="middle" letter-spacing="0.1">620</text>
<text x="201.75" y="391.8" font-size="7.8" fill="#646464" text-anchor="middle" letter-spacing="0.1">203</text>
<text x="236.25" y="391.8" font-size="7.8" fill="#646464" text-anchor="middle" letter-spacing="0.1">235</text>
<text x="271.0" y="391.8" font-size="7.8" fill="#646464" text-anchor="middle" letter-spacing="0.1">92</text>
<text x="305.5" y="391.8" font-size="7.8" fill="#646464" text-anchor="middle" letter-spacing="0.1">110</text>
<text x="339.25" y="391.8" font-size="7.8" fill="#646464" text-anchor="middle" letter-spacing="0.1">216</text>
<text x="373.65" y="391.8" font-size="7.8" fill="#646464" text-anchor="middle" letter-spacing="0.1">410</text>
<text x="408.55" y="391.8" font-size="7.8" fill="#646464" text-anchor="middle" letter-spacing="0.1">65</text>
<text x="442.9" y="391.8" font-size="7.8" fill="#646464" text-anchor="middle" letter-spacing="0.1">28</text>
<text x="477.5" y="391.8" font-size="7.8" fill="#646464" text-anchor="middle" letter-spacing="0.1">44</text>
</g>
</svg>
</body></html>
